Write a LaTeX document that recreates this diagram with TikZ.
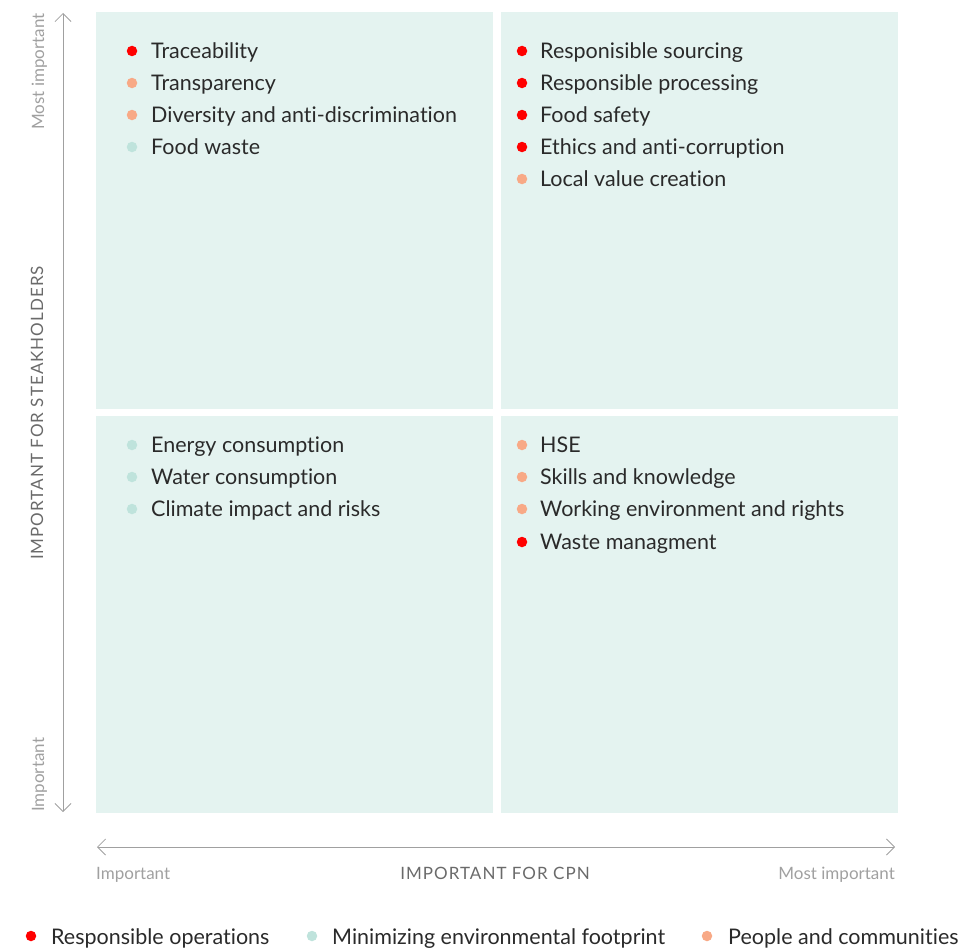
\documentclass[tikz,border=0pt]{standalone}
\usepackage{fontspec}
\setmainfont{Lato}[Ligatures={NoCommon,NoRare,NoDiscretionary}]
\newfontfamily\spacedfont[LetterSpace=6]{Lato}
\usetikzlibrary{arrows.meta}
\definecolor{quad}{HTML}{E4F3F0}
\definecolor{cred}{HTML}{FF0000}
\definecolor{cpeach}{HTML}{F8A986}
\definecolor{cmint}{HTML}{BFE3DC}
\definecolor{txt}{HTML}{2A2A2A}
\definecolor{axgray}{HTML}{A0A0A0}
\definecolor{titlegray}{HTML}{6A6A6A}
\tikzset{
  quadbox/.style={fill=quad,draw=none},
  item/.style={anchor=base west,inner sep=0pt,text=txt,font=\fontsize{21.5}{24}\selectfont},
  dotred/.style={circle,fill=cred,inner sep=0pt,minimum size=10.5pt},
  dotpeach/.style={circle,fill=cpeach,inner sep=0pt,minimum size=10.5pt},
  dotmint/.style={circle,fill=cmint,inner sep=0pt,minimum size=10.5pt},
  axisline/.style={draw=axgray,line width=0.8pt,{Straight Barb[length=8pt,width=16pt]}-{Straight Barb[length=8pt,width=16pt]}},
  axlabel/.style={inner sep=0pt,text=axgray,font=\fontsize{17}{19}\selectfont},
  axtitle/.style={inner sep=0pt,text=titlegray,font=\spacedfont\fontsize{17}{19}\selectfont},
}
\begin{document}
\begin{tikzpicture}[x=1pt,y=-1pt]
\useasboundingbox (0,0) rectangle (971,950);
% quadrants
\fill[quadbox] (96,12) rectangle (493,409);
\fill[quadbox] (501,12) rectangle (898,409);
\fill[quadbox] (96,416) rectangle (493,813);
\fill[quadbox] (501,416) rectangle (898,813);
% axes
\coordinate (vtop) at (63,13);
\coordinate (vbot) at (63,812);
\draw[axisline] (vbot) -- (vtop);
\coordinate (hl) at (97,847);
\coordinate (hr) at (895,847);
\draw[axisline] (hl) -- (hr);
\node[axlabel,rotate=90,anchor=base east] (ymost) at (44,13) {Most important};
\node[axlabel,rotate=90,anchor=base west] (yimp) at (44,812) {Important};
\node[axtitle,rotate=90,anchor=base] (ytitle) at (43,413) {IMPORTANT FOR STEAKHOLDERS};
\node[axlabel,anchor=base west] (ximp) at (96,879) {Important};
\node[axtitle,anchor=base] (xtitle) at (495,879) {IMPORTANT FOR CPN};
\node[axlabel,anchor=base east] (xmost) at (895,879) {Most important};
% top-left
\node[dotred] (d1) at (132,51) {}; \node[item] (t1) at (151,58.5) {Traceability};
\node[dotpeach] (d2) at (132,83) {}; \node[item] (t2) at (151,90.5) {Transparency};
\node[dotpeach] (d3) at (132,115) {}; \node[item] (t3) at (151,122.5) {Diversity and anti-discrimination};
\node[dotmint] (d4) at (132,147) {}; \node[item] (t4) at (151,154.5) {Food waste};
% top-right
\node[dotred] (d5) at (522,51) {}; \node[item] (t5) at (540,58.5) {Responisible sourcing};
\node[dotred] (d6) at (522,83) {}; \node[item] (t6) at (540,90.5) {Responsible processing};
\node[dotred] (d7) at (522,115) {}; \node[item] (t7) at (540,122.5) {Food safety};
\node[dotred] (d8) at (522,147) {}; \node[item] (t8) at (540,154.5) {Ethics and anti-corruption};
\node[dotpeach] (d9) at (522,179) {}; \node[item] (t9) at (540,186.5) {Local value creation};
% bottom-left
\node[dotmint] (d10) at (132,445) {}; \node[item] (t10) at (151,452.5) {Energy consumption};
\node[dotmint] (d11) at (132,477) {}; \node[item] (t11) at (151,484.5) {Water consumption};
\node[dotmint] (d12) at (132,509) {}; \node[item] (t12) at (151,516.5) {Climate impact and risks};
% bottom-right
\node[dotpeach] (d13) at (522,445) {}; \node[item] (t13) at (540,452.5) {HSE};
\node[dotpeach] (d14) at (522,477) {}; \node[item] (t14) at (540,484.5) {Skills and knowledge};
\node[dotpeach] (d15) at (522,509) {}; \node[item] (t15) at (540,516.5) {Working environment and rights};
\node[dotred] (d16) at (522,542) {}; \node[item] (t16) at (540,549.5) {Waste managment};
% legend
\node[dotred] (l1) at (31,936) {}; \node[item] (lt1) at (51,944) {Responsible operations};
\node[dotmint] (l2) at (312,936) {}; \node[item] (lt2) at (332,944) {Minimizing environmental footprint};
\node[dotpeach] (l3) at (707,936) {}; \node[item] (lt3) at (728,944) {People and communities};
\end{tikzpicture}
\end{document}
